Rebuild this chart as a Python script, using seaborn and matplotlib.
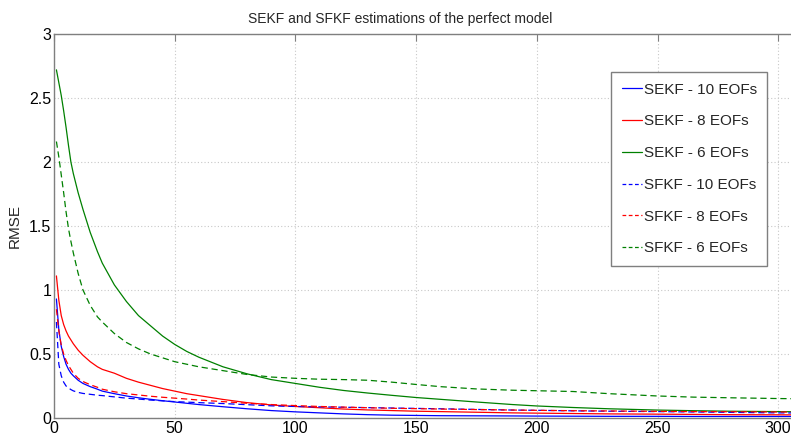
import matplotlib
matplotlib.use("Agg")
import matplotlib.pyplot as plt
import seaborn as sns
import pandas as pd

# Assimilation steps at which RMSE is tabulated
steps = [1, 2, 3, 4, 5, 6, 7, 8, 10, 12, 15, 18, 20, 25, 30, 35, 40, 45, 50,
         55, 60, 70, 80, 90, 100, 110, 120, 130, 140, 150, 160, 175, 190, 200,
         215, 230, 250, 265, 280, 300, 310]

sekf_10 = [0.93, 0.69, 0.56, 0.48, 0.42, 0.38, 0.35, 0.33, 0.295, 0.27, 0.245,
           0.225, 0.21, 0.19, 0.172, 0.158, 0.146, 0.135, 0.125, 0.115, 0.105,
           0.088, 0.072, 0.058, 0.048, 0.04, 0.032, 0.026, 0.022, 0.02, 0.018,
           0.017, 0.016, 0.015, 0.014, 0.013, 0.013, 0.012, 0.012, 0.012, 0.012]
sekf_8 = [1.11, 0.92, 0.80, 0.73, 0.68, 0.64, 0.61, 0.58, 0.53, 0.49, 0.44,
          0.40, 0.38, 0.35, 0.31, 0.28, 0.255, 0.23, 0.21, 0.19, 0.175,
          0.145, 0.12, 0.102, 0.09, 0.08, 0.07, 0.063, 0.058, 0.053, 0.05,
          0.045, 0.04, 0.038, 0.035, 0.032, 0.03, 0.028, 0.026, 0.025, 0.024]
sekf_6 = [2.72, 2.62, 2.52, 2.40, 2.27, 2.13, 2.00, 1.91, 1.76, 1.63, 1.45,
          1.30, 1.21, 1.04, 0.91, 0.80, 0.72, 0.64, 0.575, 0.52, 0.475,
          0.40, 0.345, 0.30, 0.27, 0.24, 0.215, 0.195, 0.177, 0.16, 0.146,
          0.125, 0.105, 0.094, 0.082, 0.072, 0.062, 0.057, 0.053, 0.05, 0.048]
sfkf_10 = [0.75, 0.42, 0.33, 0.28, 0.25, 0.235, 0.222, 0.212, 0.20, 0.192, 0.185,
           0.178, 0.175, 0.165, 0.155, 0.148, 0.14, 0.134, 0.128, 0.124, 0.12,
           0.113, 0.104, 0.095, 0.09, 0.087, 0.084, 0.081, 0.078, 0.075, 0.072,
           0.067, 0.062, 0.06, 0.056, 0.053, 0.05, 0.047, 0.044, 0.04, 0.039]
sfkf_8 = [0.85, 0.68, 0.57, 0.50, 0.45, 0.41, 0.38, 0.35, 0.31, 0.285, 0.26,
          0.24, 0.225, 0.205, 0.19, 0.18, 0.17, 0.162, 0.155, 0.148, 0.14,
          0.128, 0.115, 0.105, 0.097, 0.09, 0.085, 0.08, 0.076, 0.073, 0.07,
          0.066, 0.062, 0.06, 0.057, 0.055, 0.052, 0.05, 0.049, 0.047, 0.046]
sfkf_6 = [2.16, 2.04, 1.90, 1.76, 1.61, 1.48, 1.38, 1.29, 1.13, 1.00, 0.88,
          0.79, 0.75, 0.66, 0.59, 0.54, 0.50, 0.47, 0.44, 0.42, 0.40,
          0.37, 0.34, 0.32, 0.31, 0.303, 0.30, 0.295, 0.28, 0.262, 0.245,
          0.227, 0.217, 0.213, 0.207, 0.19, 0.172, 0.163, 0.158, 0.152, 0.15]

labels = ["SEKF - 10 EOFs", "SEKF - 8 EOFs", "SEKF - 6 EOFs",
          "SFKF - 10 EOFs", "SFKF - 8 EOFs", "SFKF - 6 EOFs"]
series = [sekf_10, sekf_8, sekf_6, sfkf_10, sfkf_8, sfkf_6]

rows = []
for lab, vals in zip(labels, series):
    for s, v in zip(steps, vals):
        rows.append({"step": s, "RMSE": v, "run": lab})
df = pd.DataFrame(rows)

sns.set_style("white")
plt.rcParams["font.family"] = ["Liberation Sans", "DejaVu Sans"]

palette = {
    "SEKF - 10 EOFs": "#0000ff", "SEKF - 8 EOFs": "#ff0000", "SEKF - 6 EOFs": "#008000",
    "SFKF - 10 EOFs": "#0000ff", "SFKF - 8 EOFs": "#ff0000", "SFKF - 6 EOFs": "#008000",
}
dashes = {
    "SEKF - 10 EOFs": "", "SEKF - 8 EOFs": "", "SEKF - 6 EOFs": "",
    "SFKF - 10 EOFs": (5, 3), "SFKF - 8 EOFs": (5, 3), "SFKF - 6 EOFs": (5, 3),
}

fig = plt.figure(figsize=(7.91, 4.36), dpi=100)
ax = fig.add_axes([54 / 791, 1 - 418 / 436, 1 - 54 / 791, (418 - 34) / 436])

sns.lineplot(data=df, x="step", y="RMSE", hue="run", style="run",
             hue_order=labels, style_order=labels, palette=palette,
             dashes=dashes, estimator=None, sort=False, linewidth=0.9,
             ax=ax, legend=False)

ax.set_xlim(0, 305.3)
ax.set_ylim(0, 3)
ax.set_xticks([0, 50, 100, 150, 200, 250, 300])
ax.set_yticks([0, 0.5, 1, 1.5, 2, 2.5, 3])
ax.set_yticklabels(["0", "0.5", "1", "1.5", "2", "2.5", "3"])
ax.set_xlabel("")
ax.set_ylabel("RMSE", fontsize=11, labelpad=5)
ax.set_title("SEKF and SFKF estimations of the perfect model", fontsize=10,
             x=(400 - 54) / 737, pad=8)

ax.grid(True, color="#c8c8c8", linestyle=(0, (1, 2)), linewidth=0.8)
for side in ["left", "bottom", "top"]:
    ax.spines[side].set_color("#7f7f7f")
    ax.spines[side].set_linewidth(1.0)
ax.spines["right"].set_visible(False)
ax.tick_params(direction="in", length=5, color="#7f7f7f", top=True, right=False,
               labelsize=11.5, labelcolor="black", pad=2)

handles = []
for lab in labels:
    h, = ax.plot([], [], color=palette[lab], linewidth=0.9,
                 linestyle="-" if dashes[lab] == "" else (0, (3, 2)))
    handles.append(h)
leg = ax.legend(handles, labels, loc="upper left",
                bbox_to_anchor=(611 / 791, 1 - 72 / 436),
                bbox_transform=fig.transFigure, fontsize=11,
                frameon=True, fancybox=False, edgecolor="#7f7f7f",
                handlelength=1.3, handletextpad=0.13, labelspacing=1.16,
                borderpad=0.7, borderaxespad=0, framealpha=1)
leg.get_frame().set_linewidth(1.0)

fig.savefig("out.png", dpi=100)
